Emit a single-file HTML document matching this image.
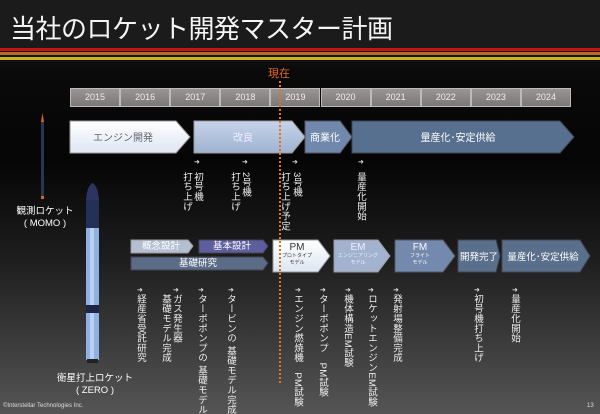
<!DOCTYPE html>
<html style="overflow:hidden;background:#555"><head><meta charset="utf-8"><style>
body{margin:0;width:600px;height:414px;overflow:hidden;background:linear-gradient(#1b1b1b 0,#1b1b1b 46px,#0a0a0a 70px,#050505 160px,#1e1e1e 260px,#555 414px);position:relative;font-family:"Liberation Sans","Noto Sans CJK JP",sans-serif;color:#fff}
.a{position:absolute;white-space:nowrap}
.v{position:absolute;writing-mode:vertical-rl;font-size:9.5px;line-height:10px;color:#eee;letter-spacing:0.3px;white-space:nowrap}
.m{position:absolute;font-size:7px;color:#ddd}
.yr{position:absolute;top:88px;height:19px;width:50.1px;box-sizing:border-box;border:1px solid #bbb;background:linear-gradient(#9a9494,#7c7777);font-size:9px;text-align:center;line-height:17px;color:#eee}
</style></head><body>
<div class="a" style="left:10px;top:9px;font-size:26px;letter-spacing:-0.5px;color:#f4f4f4">当社のロケット開発マスター計画</div>
<div class="a" style="left:0;top:48px;width:600px;height:3px;background:#c8140e"></div>
<div class="a" style="left:0;top:52px;width:600px;height:3px;background:#b86a2a"></div>
<div class="a" style="left:0;top:57px;width:600px;height:3px;background:#c8b21a"></div>
<div class="a" style="left:268px;top:65px;font-size:11px;color:#e86a1c">現在</div>
<div class="yr" style="left:70px">2015</div><div class="yr" style="left:120.1px">2016</div><div class="yr" style="left:170.2px">2017</div><div class="yr" style="left:220.3px">2018</div><div class="yr" style="left:270.4px">2019</div><div class="yr" style="left:320.5px">2020</div><div class="yr" style="left:370.6px">2021</div><div class="yr" style="left:420.7px">2022</div><div class="yr" style="left:470.8px">2023</div><div class="yr" style="left:520.9px">2024</div>
<div class="a" style="left:279px;top:81px;height:302px;border-left:2px dotted #e8701c;z-index:5"></div>
<svg class="a" style="left:0;top:0" width="600" height="414">
<defs>
<linearGradient id="g1" x1="0" y1="0" x2="0" y2="1"><stop offset="0" stop-color="#fff"/><stop offset="1" stop-color="#dde6f2"/></linearGradient>
<linearGradient id="g2" x1="0" y1="0" x2="0" y2="1"><stop offset="0" stop-color="#c6d4ea"/><stop offset="1" stop-color="#9fb2d0"/></linearGradient>
</defs>
<g stroke="#999" stroke-width="1">
<polygon points="70,121 176,121 190,137 176,153 70,153" fill="url(#g1)"/>
<polygon points="194,121 292,121 305,137 292,153 194,153" fill="url(#g2)"/>
<polygon points="305,121 340,121 352,137 340,153 305,153" fill="#7088ab" stroke="#556"/>
<polygon points="352,121 560,121 574,137 560,153 352,153" fill="#58708f" stroke="#445"/>
<polygon points="131,240 188,240 193,246 188,253 131,253" fill="#b4bfd2"/>
<polygon points="199,240 263,240 268,246 263,253 199,253" fill="#5e5e9e" stroke="#445"/>
<polygon points="131,257 263,257 268,263 263,270 131,270" fill="#5b6d86" stroke="#445"/>
<polygon points="273,240 318,240 330,256 318,272 273,272" fill="url(#g1)"/>
<polygon points="334,240 378,240 390,256 378,272 334,272" fill="#a3b3cf"/>
<polygon points="395,240 443,240 455,256 443,272 395,272" fill="#7389ad" stroke="#556"/>
<polygon points="458,240 496,240 500,256 496,272 458,272" fill="#5a6f8c" stroke="#445"/>
<polygon points="502,240 580,240 590,256 580,272 502,272" fill="#5a6f8c" stroke="#445"/>
</g>
<rect x="41" y="122" width="3" height="76" fill="#2a3550"/>
<polygon points="42.5,113 41,122 44,122" fill="#d46a1e"/>
<rect x="41" y="196" width="3" height="3" fill="#d46a1e"/>
<path d="M86,200 Q87,186 92.5,183 Q98,186 99,200 Z" fill="#2c3560"/>
<rect x="86" y="200" width="13" height="28" fill="#253058"/>
<rect x="86" y="228" width="13" height="132" fill="#8fb0e0"/>
<rect x="90" y="228" width="4" height="132" fill="#b8d0f2"/>
<rect x="86" y="305" width="13" height="8" fill="#1d2545"/>
<rect x="87" y="359" width="11" height="4" fill="#222"/>
</svg>
<div class="a" style="left:70px;top:129px;width:106px;text-align:center;font-size:10px;color:#667">エンジン開発</div>
<div class="a" style="left:194px;top:129px;width:98px;text-align:center;font-size:10px;color:#eef">改良</div>
<div class="a" style="left:305px;top:129px;width:40px;text-align:center;font-size:10px">商業化</div>
<div class="a" style="left:352px;top:129px;width:212px;text-align:center;font-size:10px">量産化･安定供給</div>
<div class="a" style="left:131px;top:240px;width:60px;text-align:center;font-size:9.5px;line-height:13px">概念設計</div>
<div class="a" style="left:199px;top:240px;width:66px;text-align:center;font-size:9.5px;line-height:13px">基本設計</div>
<div class="a" style="left:131px;top:257px;width:134px;text-align:center;font-size:9.5px;line-height:13px">基礎研究</div>
<div class="a" style="left:273px;top:242px;width:48px;text-align:center;font-size:10px;color:#333;line-height:11px">PM<div style="font-size:5px;line-height:7px">プロトタイプ<br>モデル</div></div>
<div class="a" style="left:334px;top:242px;width:48px;text-align:center;font-size:10px;color:#eef;line-height:11px">EM<div style="font-size:5px;line-height:7px">エンジニアリング<br>モデル</div></div>
<div class="a" style="left:395px;top:242px;width:50px;text-align:center;font-size:10px;line-height:11px">FM<div style="font-size:5px;line-height:7px">フライト<br>モデル</div></div>
<div class="a" style="left:458px;top:249px;width:42px;text-align:center;font-size:9.5px">開発完了</div>
<div class="a" style="left:502px;top:249px;width:82px;text-align:center;font-size:9.5px">量産化･安定供給</div>
<div class="a" style="left:10px;top:206px;font-size:9.5px;line-height:12px;text-align:center;width:70px">観測ロケット<br>( MOMO )</div>
<div class="a" style="left:55px;top:373px;font-size:9.5px;line-height:12px;text-align:center;width:80px">衛星打上ロケット<br>( ZERO )</div>
<div class="m" style="left:194px;top:158px">➜</div><div class="m" style="left:242px;top:158px">➜</div><div class="m" style="left:292px;top:158px">➜</div><div class="m" style="left:358px;top:158px">➜</div>
<div class="v" style="left:192px;top:172px">初号機</div><div class="v" style="left:181px;top:172px">打ち上げ</div>
<div class="v" style="left:240px;top:172px">2号機</div><div class="v" style="left:229px;top:172px">打ち上げ</div>
<div class="v" style="left:291px;top:172px">3号機</div><div class="v" style="left:279px;top:172px">打ち上げ予定</div>
<div class="v" style="left:355px;top:172px">量産化開始</div>
<div class="m" style="left:137px;top:286px">➜</div><div class="m" style="left:173px;top:286px">➜</div><div class="m" style="left:198px;top:286px">➜</div><div class="m" style="left:228px;top:286px">➜</div><div class="m" style="left:295px;top:286px">➜</div><div class="m" style="left:320px;top:286px">➜</div><div class="m" style="left:345px;top:286px">➜</div><div class="m" style="left:368px;top:286px">➜</div><div class="m" style="left:393px;top:286px">➜</div><div class="m" style="left:474px;top:286px">➜</div><div class="m" style="left:512px;top:286px">➜</div>
<div class="v" style="left:135px;top:294px">経産省受託研究</div>
<div class="v" style="left:171px;top:294px">ガス発生器</div><div class="v" style="left:160px;top:294px">基礎モデル完成</div>
<div class="v" style="left:196px;top:294px">ターボポンプの 基礎モデル完成</div>
<div class="v" style="left:225px;top:294px">タービンの 基礎モデル完成</div>
<div class="v" style="left:292px;top:294px">エンジン燃焼機　PM試験</div>
<div class="v" style="left:317px;top:294px">ターボポンプ　PM試験</div>
<div class="v" style="left:342px;top:294px">機体構造EM試験</div>
<div class="v" style="left:366px;top:294px">ロケットエンジンEM試験</div>
<div class="v" style="left:391px;top:294px">発射場整備完成</div>
<div class="v" style="left:472px;top:294px">初号機打ち上げ</div>
<div class="v" style="left:509px;top:294px">量産化開始</div>
<div class="a" style="left:3px;top:403px;font-size:6px;color:#ddd">©Interstellar Technologies Inc.</div>
<div class="a" style="left:587px;top:403px;font-size:6px;color:#ddd">13</div>
</body></html>
